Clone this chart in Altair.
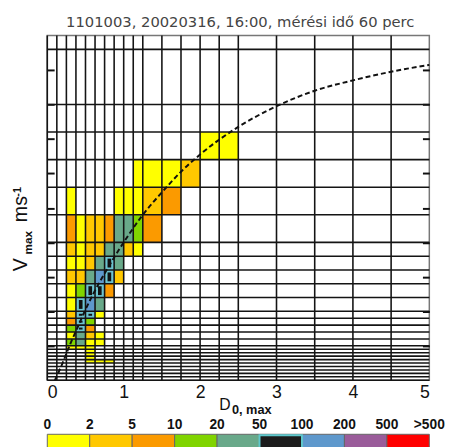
import altair as alt
import pandas as pd

# class boundaries (diameter classes in mm, velocity classes in m/s)
d_edges = [0, 0.125, 0.25, 0.375, 0.5, 0.625, 0.75, 0.875, 1.0, 1.125, 1.25,
           1.5, 1.75, 2.0, 2.25, 2.5, 3.0, 3.5, 4.0, 4.5, 5.0]
v_edges = [0, 0.1, 0.2, 0.3, 0.4, 0.5, 0.6, 0.7, 0.8, 0.9, 1.0, 1.2, 1.4, 1.6,
           1.8, 2.0, 2.4, 2.8, 3.2, 3.6, 4.0, 4.8, 5.6, 6.4, 7.2, 8.0, 9.6]

# occupied cells: diameter class index, velocity class index, count category index
cell_d = [13, 14,
          9, 10, 11, 12,
          2, 7, 8, 9, 10, 11,
          2, 3, 4, 5, 6, 7, 8, 9, 10,
          2, 3, 4, 5, 6, 7, 8, 9,
          2, 3, 4, 5, 6, 7,
          2, 3, 4, 5, 6, 7,
          2, 3, 4, 5, 6,
          2, 3, 4, 5,
          2, 3, 4, 5,
          2, 3, 4,
          2, 3, 4,
          2, 3, 4, 5,
          2, 3, 4, 5,
          2, 3, 4,
          4, 4, 4,
          4, 5, 6]
cell_v = [23, 23,
          22, 22, 22, 22,
          21, 21, 21, 21, 21, 21,
          20, 20, 20, 20, 20, 20, 20, 20, 20,
          19, 19, 19, 19, 19, 19, 19, 19,
          18, 18, 18, 18, 18, 18,
          17, 17, 17, 17, 17, 17,
          16, 16, 16, 16, 16,
          15, 15, 15, 15,
          14, 14, 14, 14,
          13, 13, 13,
          12, 12, 12,
          11, 11, 11, 11,
          10, 10, 10, 10,
          9, 9, 9,
          8, 7, 6,
          5, 5, 5]
cell_c = [0, 0,
          0, 0, 0, 1,
          0, 0, 0, 0, 1, 2,
          2, 0, 1, 1, 2, 4, 4, 3, 2,
          1, 0, 1, 1, 4, 4, 1, 0,
          0, 0, 1, 4, 5, 4,
          1, 1, 4, 6, 5, 1,
          0, 3, 5, 5, 2,
          0, 5, 6, 4,
          1, 5, 5, 0,
          2, 5, 3,
          3, 5, 2,
          0, 4, 1, 0,
          3, 4, 0, 0,
          0, 0, 0,
          0, 0, 0,
          0, 0, 0]

# count categories (colour bar)
cat_colors = ["#ffff00", "#ffc800", "#fb9a00", "#80d400", "#69a98a",
              "#6cc3cf", "#5e98cc", "#9a5c9a", "#ff0000"]
cat_labels = ["0", "2", "5", "10", "20", "50", "100", "200", "500", ">500"]

# terminal fall speed curve (dashed)
curve_d = [0.1, 0.2, 0.3, 0.4, 0.5, 0.6, 0.75, 1.0, 1.25, 1.5, 1.75, 2.0,
           2.5, 3.0, 3.5, 4.0, 4.5, 5.0]
curve_v = [0.0, 0.5, 1.05, 1.55, 2.05, 2.5, 3.1, 4.0, 4.8, 5.45, 6.05, 6.55,
           7.35, 7.95, 8.4, 8.7, 8.95, 9.15]

title_text = "1101003, 20020316, 16:00, mérési idő 60 perc"

cells = pd.DataFrame({
    "d0": [d_edges[i] for i in cell_d],
    "d1": [d_edges[i + 1] for i in cell_d],
    "v0": [v_edges[j] for j in cell_v],
    "v1": [v_edges[j + 1] for j in cell_v],
    "c": cell_c,
})
bar = pd.DataFrame({"i0": list(range(9)), "i1": list(range(1, 10)),
                    "c": list(range(9))})
bar_lab = pd.DataFrame({"p": list(range(10)), "t": cat_labels})
curve = pd.DataFrame({"d": curve_d, "v": curve_v})

xs = alt.Scale(domain=[0, 5], nice=False, zero=False)
ys = alt.Scale(domain=[0, 10], nice=False, zero=False)
bs = alt.Scale(domain=[0, 9], nice=False, zero=False)
cs = alt.Scale(domain=list(range(9)), range=cat_colors)

SANS = "Liberation Sans, Arial, sans-serif"
LINE = "#141414"

cell_layer = alt.Chart(cells).mark_rect(strokeWidth=0).encode(
    x=alt.X("d0:Q", scale=xs, axis=alt.Axis(
        values=[0, 1, 2, 3, 4, 5], format="d", title=None, domain=False,
        ticks=False, tickSize=0, grid=False, labelFont=SANS, labelFontSize=18,
        labelColor="#111", labelPadding=4)),
    x2="d1:Q",
    y=alt.Y("v0:Q", scale=ys, axis=alt.Axis(
        orient="left", offset=-7, tickSize=7, values=list(range(1, 10)),
        labels=False, domain=False, grid=False, title=None,
        tickColor="#111", tickWidth=2)),
    y2="v1:Q",
    color=alt.Color("c:N", scale=cs, legend=None),
)

cb_inner = alt.Chart(cells).transform_filter(alt.datum.c == 5).mark_rect(
    color="#111", xOffset=3, x2Offset=-3, yOffset=-2.5, y2Offset=2.5
).encode(
    x=alt.X("d0:Q", scale=xs, axis=None), x2="d1:Q",
    y=alt.Y("v0:Q", scale=ys, axis=None), y2="v1:Q",
)

vlines = alt.Chart(pd.DataFrame({"d": d_edges[:-1]})).mark_rule(
    color=LINE, strokeWidth=1.6
).encode(x=alt.X("d:Q", scale=xs, axis=None))

hlines = alt.Chart(pd.DataFrame({"v": v_edges})).mark_rule(
    color=LINE, strokeWidth=1.6
).encode(y=alt.Y("v:Q", scale=ys, axis=alt.Axis(
    orient="right", offset=-7, tickSize=7, values=list(range(1, 10)),
    labels=False, domain=False, grid=False, title=None,
    tickColor="#111", tickWidth=2)))

curve_layer = alt.Chart(curve).mark_line(
    color="#111", strokeDash=[5, 3], strokeWidth=2, interpolate="monotone"
).encode(
    x=alt.X("d:Q", scale=xs, axis=None),
    y=alt.Y("v:Q", scale=ys, axis=None),
)

bar_rects = alt.Chart(bar).mark_rect(stroke="#666", strokeWidth=1).encode(
    x=alt.X("i0:Q", scale=bs, axis=None), x2="i1:Q",
    y=alt.value(406), y2=alt.value(424),
    color=alt.Color("c:N", scale=cs, legend=None),
)
bar_black = alt.Chart(bar).transform_filter(alt.datum.c == 5).mark_rect(
    fill="#1c1c1c", stroke="#5fc8cc", strokeWidth=2
).encode(
    x=alt.X("i0:Q", scale=bs, axis=None), x2="i1:Q",
    y=alt.value(407), y2=alt.value(424),
)
bar_text = alt.Chart(bar_lab).mark_text(
    font=SANS, fontSize=14, fontWeight="bold", color="#111",
    baseline="middle", align="center"
).encode(
    x=alt.X("p:Q", scale=bs, axis=None), y=alt.value(397), text="t:N"
)


def label(txt, x, y, **kw):
    return alt.Chart(alt.Data(values=[{"t": txt}])).mark_text(**kw).encode(
        x=alt.value(x), y=alt.value(y), text="t:N")


title_layer = label(title_text, 196.5, -8.5, font="DejaVu Sans", fontSize=15,
                    color="#444", align="center", baseline="alphabetic")
xt1 = label("D", 175, 381, font=SANS, fontSize=16, color="#111",
            align="left", baseline="alphabetic")
xt2 = label("0, max", 188, 385, font=SANS, fontSize=13, fontWeight="bold",
            color="#111", align="left", baseline="alphabetic")
yt1 = label("V", -21, 240, font=SANS, fontSize=20, color="#111", angle=270,
            align="left", baseline="alphabetic")
yt2 = label("max", -16, 223, font=SANS, fontSize=12, fontWeight="bold",
            color="#111", angle=270, align="left", baseline="alphabetic")
yt3 = label("ms", -21, 190, font=SANS, fontSize=20, color="#111", angle=270,
            align="left", baseline="alphabetic")
yt4 = label("-1", -27, 164, font=SANS, fontSize=11, fontWeight="bold",
            color="#111", angle=270, align="left", baseline="alphabetic")

chart = alt.layer(
    cell_layer, cb_inner, vlines, hlines, curve_layer,
    bar_rects, bar_black, bar_text,
    title_layer, xt1, xt2, yt1, yt2, yt3, yt4,
).resolve_scale(x="independent").resolve_axis(y="independent").properties(
    width=389, height=351,
    autosize=alt.AutoSizeParams(type="none"),
    padding={"left": 40, "top": 24, "right": 18, "bottom": 71},
    background="white",
).configure_view(stroke="#777", strokeWidth=1.5)

chart.save("out.html", embed_options={"renderer": "svg", "actions": False})
